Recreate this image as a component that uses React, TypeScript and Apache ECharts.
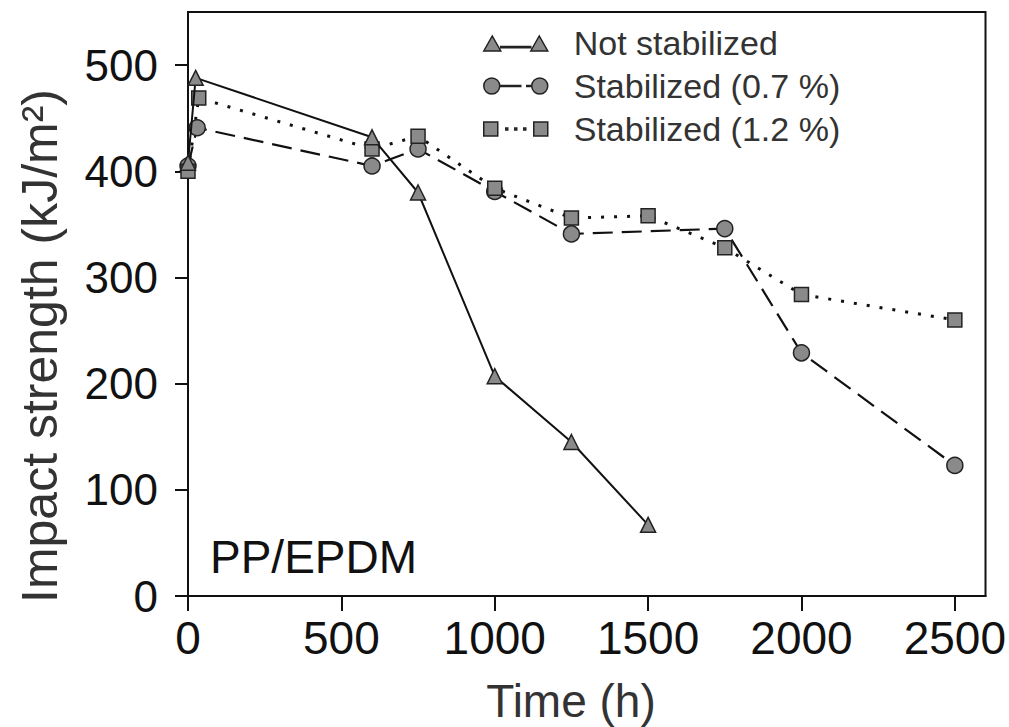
import React, { useEffect, useRef } from "react";
import * as echarts from "echarts";

const xTicks = [0, 500, 1000, 1500, 2000, 2500];
const yTicks = [0, 100, 200, 300, 400, 500];

const notStabTime = [0, 25, 600, 750, 1000, 1250, 1500];
const notStabVal = [408, 488, 432, 380, 207, 145, 67];

const stab07Time = [0, 30, 600, 750, 1000, 1250, 1750, 2000, 2500];
const stab07Val = [405, 441, 405, 421, 381, 341, 346, 229, 123];

const stab12Time = [0, 35, 600, 750, 1000, 1250, 1500, 1750, 2000, 2500];
const stab12Val = [400, 469, 421, 433, 384, 356, 358, 328, 284, 260];

const seriesNames = ["Not stabilized", "Stabilized (0.7 %)", "Stabilized (1.2 %)"];

const FONT = "'Liberation Sans', Arial, Helvetica, sans-serif";

const triIcon =
  "path://M0 16 L8.5 1 L17 16 Z M47 16 L55.5 1 L64 16 Z M17 11.5 L47 11.5 L47 12.8 L17 12.8 Z M0 0 L0.01 0 Z";
const circIcon =
  "path://M0 8 A8 8 0 1 0 16 8 A8 8 0 1 0 0 8 Z M48 8 A8 8 0 1 0 64 8 A8 8 0 1 0 48 8 Z M16 7.4 L37 7.4 L37 8.6 L16 8.6 Z M43 7.4 L48 7.4 L48 8.6 L43 8.6 Z";
const sqIcon =
  "path://M0 1 L14 1 L14 15 L0 15 Z M50 1 L64 1 L64 15 L50 15 Z M22 7 L24 7 L24 9 L22 9 Z M31 7 L33 7 L33 9 L31 9 Z M40 7 L42 7 L42 9 L40 9 Z M0 0 L0.01 0 Z M0 16 L0.01 16 Z";

function zip(xs: number[], ys: number[]) {
  return xs.map((x, i) => [x, ys[i]]);
}

export default function App() {
  const ref = useRef<HTMLDivElement>(null);
  useEffect(() => {
    if (!ref.current) return;
    const chart = echarts.init(ref.current, undefined, { renderer: "svg" });
    const markerStyle = { color: "#8a8a8a", borderColor: "#222", borderWidth: 1.5 };
    const plain = (v: number) => String(v);
    const option: any = {
      animation: false,
      backgroundColor: "#fff",
      grid: {
        left: 188,
        right: 23,
        top: 12,
        bottom: 131,
        show: true,
        borderColor: "#111",
        borderWidth: 2,
        containLabel: false,
      },
      xAxis: {
        type: "value",
        min: 0,
        max: 2600,
        interval: 500,
        axisLine: { show: true, onZero: false, lineStyle: { color: "#111", width: 2 } },
        axisTick: { show: true, inside: false, length: 15, lineStyle: { color: "#111", width: 2 }, customValues: xTicks },
        axisLabel: { color: "#111", fontSize: 46, fontFamily: FONT, margin: 19, customValues: xTicks, formatter: plain },
        splitLine: { show: false },
      },
      yAxis: {
        type: "value",
        min: 0,
        max: 550,
        interval: 100,
        axisLine: { show: true, onZero: false, lineStyle: { color: "#111", width: 2 } },
        axisTick: { show: true, inside: false, length: 13, lineStyle: { color: "#111", width: 2 }, customValues: yTicks },
        axisLabel: { color: "#111", fontSize: 44, fontFamily: FONT, margin: 30, customValues: yTicks, formatter: plain },
        splitLine: { show: false },
      },
      legend: {
        orient: "vertical",
        left: 483,
        top: 26,
        padding: 0,
        itemWidth: 64,
        itemHeight: 16,
        itemGap: 9,
        selectedMode: false,
        textStyle: {
          color: "#333",
          fontSize: 34,
          fontFamily: FONT,
          lineHeight: 34,
          padding: [0, 0, 0, 21],
        },
        data: [
          { name: seriesNames[0], icon: triIcon, itemStyle: markerStyle },
          { name: seriesNames[1], icon: circIcon, itemStyle: markerStyle },
          { name: seriesNames[2], icon: sqIcon, itemStyle: markerStyle },
        ],
      },
      graphic: [
        {
          type: "text",
          x: 571,
          y: 701,
          style: {
            text: "Time (h)",
            fill: "#333",
            font: `46px ${FONT}`,
            align: "center",
            verticalAlign: "middle",
          },
        },
        {
          type: "text",
          x: 40,
          y: 346,
          rotation: Math.PI / 2,
          style: {
            text: "Impact strength (kJ/m²)",
            fill: "#333",
            font: `50px ${FONT}`,
            align: "center",
            verticalAlign: "middle",
          },
        },
        {
          type: "text",
          x: 210,
          y: 557,
          style: {
            text: "PP/EPDM",
            fill: "#111",
            font: `46px ${FONT}`,
            align: "left",
            verticalAlign: "middle",
          },
        },
      ],
      series: [
        {
          name: seriesNames[0],
          type: "line",
          data: zip(notStabTime, notStabVal),
          symbol: "triangle",
          symbolSize: 15,
          clip: false,
          itemStyle: markerStyle,
          lineStyle: { color: "#111", width: 2, type: "solid" },
          z: 3,
        },
        {
          name: seriesNames[1],
          type: "line",
          data: zip(stab07Time, stab07Val),
          symbol: "circle",
          symbolSize: 16,
          clip: false,
          itemStyle: markerStyle,
          lineStyle: { color: "#111", width: 2.2, type: [20, 9] },
          z: 2,
        },
        {
          name: seriesNames[2],
          type: "line",
          data: zip(stab12Time, stab12Val),
          symbol: "rect",
          symbolSize: 14,
          clip: false,
          itemStyle: markerStyle,
          lineStyle: { color: "#111", width: 3, type: [3, 10] },
          z: 2,
        },
      ],
    };
    chart.setOption(option);
    return () => chart.dispose();
  }, []);
  return (
    <div
      ref={ref}
      style={{ position: "fixed", left: 0, top: 0, width: 1009, height: 727, background: "#fff" }}
    />
  );
}
